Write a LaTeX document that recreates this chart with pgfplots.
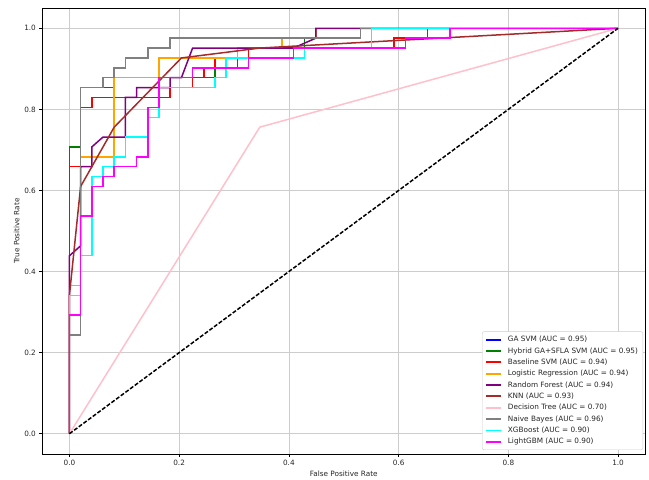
\documentclass[border=0pt]{standalone}
\usepackage{fontspec}
\setmainfont{DejaVu Sans}
\usepackage{pgfplots}
\pgfplotsset{compat=1.18}
\definecolor{mplblue}{RGB}{0,0,255}
\definecolor{mplred}{RGB}{255,0,0}
\definecolor{mplgreen}{RGB}{0,128,0}
\definecolor{mplorange}{RGB}{255,165,0}
\definecolor{mplpurple}{RGB}{128,0,128}
\definecolor{mplbrown}{RGB}{165,42,42}
\definecolor{mplpink}{RGB}{255,192,203}
\definecolor{mplgray}{RGB}{128,128,128}
\definecolor{mplcyan}{RGB}{0,255,255}
\definecolor{mplmagenta}{RGB}{255,0,255}
\definecolor{gridgray}{RGB}{205,205,205}
\definecolor{legframe}{RGB}{204,204,204}
\definecolor{txt}{RGB}{38,38,38}
\begin{document}
\begin{tikzpicture}[x=1pt,y=1pt]
\useasboundingbox (0,0) rectangle (649,480);
\begin{axis}[
  at={(42pt,26pt)}, anchor=south west,
  scale only axis, width=603.5pt, height=446pt,
  xmin=-0.05, xmax=1.05, ymin=-0.05, ymax=1.05,
  xtick={0,0.2,0.4,0.6,0.8,1.0},
  ytick={0,0.2,0.4,0.6,0.8,1.0},
  /pgf/number format/.cd, fixed, fixed zerofill, precision=1, assume math mode=true,
  /pgfplots/.cd,
  tick align=outside, tick pos=left,
  major tick length=2.6pt,
  tick style={black, line width=0.6pt},
  axis line style={black, line width=0.6pt},
  grid=major,
  grid style={gridgray, line width=0.6pt},
  every tick label/.append style={font=\fontsize{7.3}{8.5}\selectfont, color=txt},
  label style={font=\fontsize{7.3}{8.5}\selectfont, color=txt},
  xlabel={False Positive Rate},
  ylabel={True Positive Rate},
  xlabel style={yshift=2pt},
  ylabel style={yshift=-2pt},
  legend cell align=left,
  legend image code/.code={\draw[#1, line width=1.8pt] (0pt,0pt) -- (15pt,0pt); \path (19pt,0pt);},
  legend style={
    at={(rel axis cs:0.996,0.009)}, anchor=south east,
    draw=legframe, rounded corners=2pt, fill=white,
    font=\fontsize{7.3}{8.5}\selectfont, text=txt,
    row sep=0.3pt, inner xsep=3pt, inner ysep=2.5pt,
  },
  every axis plot/.append style={line width=1.5pt},
]
% GA SVM
\addplot[mplblue] coordinates {(0,0) (0,0.7073) (0.0204,0.7073) (0.0204,0.8537) (0.0816,0.8537) (0.0816,0.8780) (0.2653,0.8780) (0.2653,0.9024) (0.3061,0.9024) (0.3061,0.9268) (0.3265,0.9268) (0.3265,0.9512) (0.4286,0.9512) (0.4286,0.9756) (0.4490,0.9756) (0.4490,1) (1,1)};
\addlegendentry{GA SVM (AUC = 0.95)}
% Hybrid GA+SFLA SVM
\addplot[mplgreen] coordinates {(0,0) (0,0.7073) (0.0204,0.7073) (0.0204,0.8537) (0.0816,0.8537) (0.0816,0.8780) (0.2653,0.8780) (0.2653,0.9024) (0.3061,0.9024) (0.3061,0.9268) (0.3265,0.9268) (0.3265,0.9512) (0.4286,0.9512) (0.4286,0.9756) (0.4490,0.9756) (0.4490,1) (1,1)};
\addlegendentry{Hybrid GA+SFLA SVM (AUC = 0.95)}
% Baseline SVM
\addplot[mplred] coordinates {(0,0) (0,0.6585) (0.0204,0.6585) (0.0204,0.8049) (0.0408,0.8049) (0.0408,0.8293) (0.1837,0.8293) (0.1837,0.8537) (0.2245,0.8537) (0.2245,0.8780) (0.2449,0.8780) (0.2449,0.9024) (0.2653,0.9024) (0.2653,0.9268) (0.3265,0.9268) (0.3265,0.9512) (0.5918,0.9512) (0.5918,0.9756) (0.6531,0.9756) (0.6531,1) (1,1)};
\addlegendentry{Baseline SVM (AUC = 0.94)}
% Logistic Regression
\addplot[mplorange] coordinates {(0,0) (0,0.3659) (0.0204,0.3659) (0.0204,0.6829) (0.0816,0.6829) (0.0816,0.8780) (0.1633,0.8780) (0.1633,0.9268) (0.3061,0.9268) (0.3061,0.9512) (0.3878,0.9512) (0.3878,0.9756) (0.4490,0.9756) (0.4490,1) (1,1)};
\addlegendentry{Logistic Regression (AUC = 0.94)}
% Random Forest
\addplot[mplpurple] coordinates {(0,0) (0,0.4390) (0.0204,0.4634) (0.0204,0.6585) (0.0408,0.6585) (0.0408,0.7073) (0.0612,0.7317) (0.1020,0.7317) (0.1020,0.8293) (0.1224,0.8293) (0.1224,0.8537) (0.1837,0.8537) (0.1837,0.8780) (0.2041,0.8780) (0.2245,0.9512) (0.4082,0.9512) (0.4490,0.9756) (0.4490,1) (1,1)};
\addlegendentry{Random Forest (AUC = 0.94)}
% KNN
\addplot[mplbrown] coordinates {(0,0) (0,0.3415) (0.0204,0.6098) (0.0816,0.7561) (0.2041,0.9268) (0.3469,0.9512) (1,1)};
\addlegendentry{KNN (AUC = 0.93)}
% Decision Tree
\addplot[mplpink] coordinates {(0,0) (0.3469,0.7561) (1,1)};
\addlegendentry{Decision Tree (AUC = 0.70)}
% Naive Bayes
\addplot[mplgray] coordinates {(0,0) (0,0.2439) (0.0204,0.2439) (0.0204,0.8537) (0.0612,0.8537) (0.0612,0.8780) (0.0816,0.8780) (0.0816,0.9024) (0.1020,0.9024) (0.1020,0.9268) (0.1429,0.9268) (0.1429,0.9512) (0.1837,0.9512) (0.1837,0.9756) (0.5306,0.9756) (0.5306,1) (1,1)};
\addlegendentry{Naive Bayes (AUC = 0.96)}
% XGBoost
\addplot[mplcyan] coordinates {(0,0) (0,0.3415) (0.0204,0.3415) (0.0204,0.4390) (0.0408,0.4390) (0.0408,0.6341) (0.0612,0.6341) (0.0612,0.6585) (0.0816,0.6585) (0.0816,0.6829) (0.1020,0.6829) (0.1020,0.7317) (0.1429,0.7317) (0.1429,0.7805) (0.1633,0.7805) (0.1633,0.8537) (0.2653,0.8537) (0.2653,0.8780) (0.2857,0.8780) (0.2857,0.9268) (0.4286,0.9268) (0.4286,0.9512) (0.5510,0.9512) (0.5510,1) (1,1)};
\addlegendentry{XGBoost (AUC = 0.90)}
% LightGBM
\addplot[mplmagenta] coordinates {(0,0) (0,0.2927) (0.0204,0.2927) (0.0204,0.5366) (0.0408,0.5366) (0.0408,0.6098) (0.0612,0.6098) (0.0612,0.6341) (0.0816,0.6341) (0.0816,0.6585) (0.1224,0.6585) (0.1224,0.6829) (0.1429,0.6829) (0.1429,0.8049) (0.1633,0.8049) (0.1633,0.8780) (0.2245,0.8780) (0.2245,0.9024) (0.3265,0.9024) (0.3265,0.9268) (0.4082,0.9268) (0.4082,0.9512) (0.6122,0.9512) (0.6122,0.9756) (0.6939,0.9756) (0.6939,1) (1,1)};
\addlegendentry{LightGBM (AUC = 0.90)}
% chance line
\addplot[black, dash pattern=on 4pt off 1.8pt, forget plot] coordinates {(0,0) (1,1)};
\end{axis}
\end{tikzpicture}
\end{document}
